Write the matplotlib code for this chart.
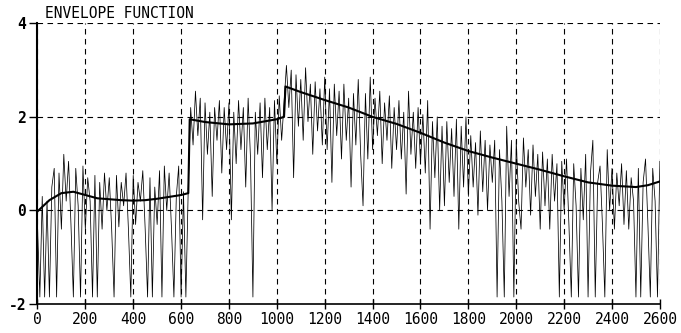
import numpy as np
import matplotlib
matplotlib.use("Agg")
import matplotlib.pyplot as plt

sig_x = list(range(0, 2610, 10))
sig_y = [
    -0.3, -1.85, 0.3, -1.85, 0.2, -1.85, 0.5, 0.9, -1.85, 0.8, -0.4, 1.2, 0.2, 1.05, -0.3, -1.85, 0.9, 0.1, -1.85, 0.95,
    -0.4, 0.7, 0.2, -1.85, 0.75, -1.85, 0.6, -0.4, 0.8, 0.0, 0.7, -0.4, -1.85, 0.75, -0.35, 0.6, 0.1, 0.8, -0.4, -1.85,
    0.75, -0.3, 0.6, 0.2, 0.85, -0.4, -1.85, 0.7, -1.85, 0.5, -0.3, 0.85, -1.85, 0.95, 0.0, 0.8, -0.4, -1.85, 0.3, 0.95,
    -1.85, 0.4, -1.85, 0.5, 2.2, 1.4, 2.55, 1.6, 2.4, -0.2, 2.3, 1.2, 2.1, 0.3, 2.2, 1.5, 2.35, 0.8, 2.2, 1.3,
    2.3, -0.2, 2.1, 1.0, 2.35, 1.3, 2.2, 0.5, 2.4, 1.1, -1.85, 2.1, 1.2, 2.3, 0.7, 2.4, 1.3, 2.2, 0.0, 2.35,
    1.0, 2.45, 1.5, 2.3, 3.1, 2.2, 3.0, 0.7, 2.9, 1.8, 2.8, 1.5, 3.05, 1.9, 2.7, 1.2, 2.75, 1.7, 2.6, 1.4,
    2.85, 1.3, 2.6, 0.6, 2.7, 1.6, 2.55, 1.1, 2.7, 1.5, 2.4, 0.5, 2.5, 1.4, 2.8, 1.2, 0.1, 2.5, 1.1, 2.85,
    1.3, 2.4, 1.6, 2.55, 1.0, 2.3, 1.5, 2.45, 0.9, 2.2, 1.3, 2.35, 1.1, 2.1, 0.35, 2.55, 1.2, 2.1, 0.9, 2.2,
    1.0, 2.05, 0.8, 2.35, -0.4, 1.9, 0.7, 2.0, 0.0, 1.8, 0.1, 1.9, 0.6, 1.75, 0.3, 1.95, -0.4, 1.8, 0.5, 2.0,
    0.3, 1.6, 0.5, 1.45, -0.1, 1.7, 0.4, 1.5, 0.0, 1.4, 0.6, 1.5, -1.85, 1.3, 0.2, -1.85, 1.8, 0.3, 1.5, -1.85,
    1.5, 0.2, -0.4, 1.55, 0.5, 1.3, -0.1, 1.4, 0.3, 1.2, -0.4, 1.25, 0.1, 1.1, -0.4, 1.2, 0.2, 1.0, -1.85, 1.05,
    0.0, 1.1, -0.3, -1.85, 1.0, 0.1, -1.85, 0.9, -0.2, 1.2, -1.85, 0.8, 1.5, -1.85, 0.6, 0.95, -0.3, -1.85, 1.3, 0.0,
    0.9, -0.4, 0.8, 0.1, 1.0, -0.3, 0.85, -0.4, 0.7, 0.2, -1.85, 0.9, -1.85, 0.6, 1.1, -0.3, -1.85, 0.9, 0.2, -1.85,
    1.05,
]

# envelope knots (two jumps, near 630 and 1030)
env_x = [0, 50, 100, 150, 200, 250, 300, 350, 400, 450, 500, 550, 600, 630,
         636, 700, 800, 900, 1000, 1030,
         1036, 1100, 1200, 1300, 1400, 1500, 1600, 1700, 1800, 1900, 2000,
         2100, 2200, 2300, 2400, 2500, 2550, 2600]
env_y = [-0.02, 0.22, 0.37, 0.40, 0.33, 0.26, 0.24, 0.22, 0.21, 0.22, 0.25, 0.29, 0.33, 0.37,
         1.95, 1.89, 1.84, 1.86, 1.95, 2.0,
         2.65, 2.53, 2.36, 2.2, 2.0, 1.85, 1.66, 1.45, 1.27, 1.13, 1.0,
         0.87, 0.73, 0.6, 0.53, 0.5, 0.54, 0.62]

x_ticks = list(range(0, 2601, 200))
y_ticks = [-2, 0, 2, 4]

plt.rcParams["font.family"] = ["DejaVu Sans Mono"]

fig = plt.figure(figsize=(6.81, 3.33), dpi=100)
ax = fig.add_axes([0.055, 0.087, 0.914, 0.843])

ax.plot(sig_x, sig_y, color="black", linewidth=0.55)
ax.plot(env_x, env_y, color="black", linewidth=1.5)

ax.set_xlim(0, 2600)
ax.set_ylim(-2, 4)
ax.set_xticks(x_ticks)
ax.set_yticks(y_ticks)
ax.set_xticklabels([str(t) for t in x_ticks], fontsize=10.5)
ax.set_yticklabels([str(t) for t in y_ticks], fontsize=10.5, fontweight="bold")

ax.grid(True, color="black", linestyle=(0, (5, 4)), linewidth=0.8)
ax.spines["top"].set_visible(False)
ax.spines["right"].set_visible(False)
ax.spines["left"].set_linewidth(1.5)
ax.spines["bottom"].set_linewidth(1.2)
ax.tick_params(axis="x", direction="inout", length=7, width=1, pad=2)
ax.tick_params(axis="y", direction="out", length=6, width=1, pad=2)

ax.text(0.012, 1.01, "ENVELOPE FUNCTION", transform=ax.transAxes,
        fontsize=10.5, ha="left", va="bottom")

fig.savefig("out.png", dpi=100)
